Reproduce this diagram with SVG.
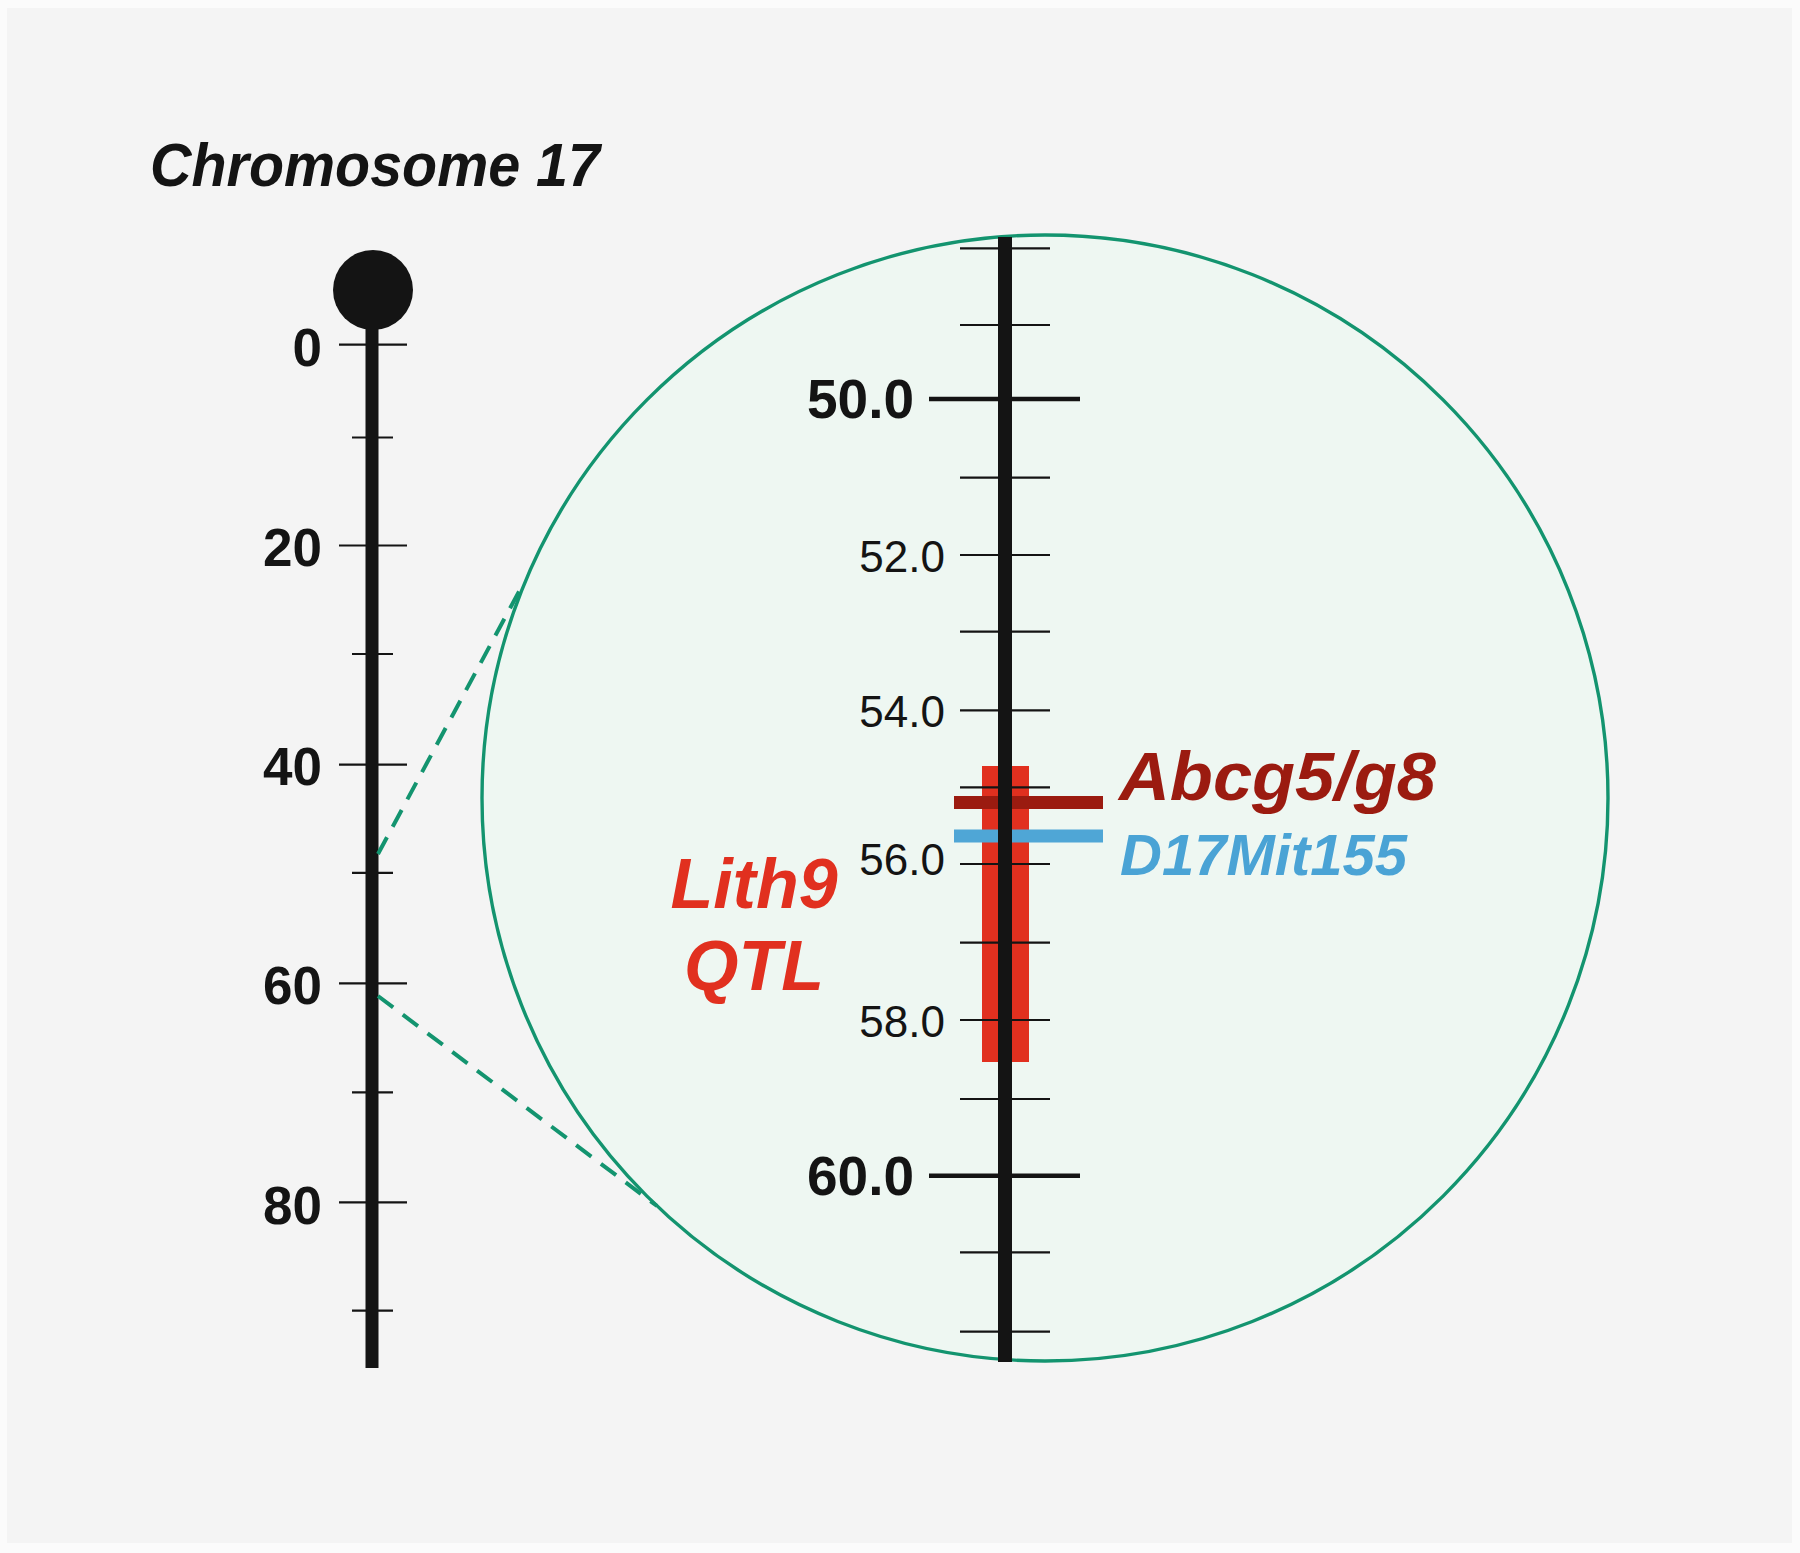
<svg xmlns="http://www.w3.org/2000/svg" width="1800" height="1553" viewBox="0 0 1800 1553">
<style>
.bold{font-family:"Liberation Sans",Arial,sans-serif;font-weight:bold}
.bi{font-family:"Liberation Sans",Arial,sans-serif;font-weight:bold;font-style:italic}
.reg{font-family:"Liberation Sans",Arial,sans-serif}
.tick{stroke:#141414;stroke-width:2.2}
.major{stroke:#141414;stroke-width:4.6}
.dash{stroke:#13946f;stroke-width:4;stroke-dasharray:19 12;fill:none}
</style>
<rect x="0" y="0" width="1800" height="1553" fill="#fbfbfb"/>
<rect x="7" y="8" width="1785" height="1535" fill="#f4f4f4"/>
<g id="title">
<text class="bi" x="150" y="186" font-size="61" fill="#141414" textLength="450" lengthAdjust="spacingAndGlyphs">Chromosome 17</text>
</g>
<g id="left-chromosome">
<circle cx="373" cy="290" r="40" fill="#141414"/>
<rect x="365.5" y="290" width="13" height="1078" fill="#141414"/>
<g class="tick">
<line x1="339" y1="344.6" x2="407" y2="344.6"/>
<line x1="352" y1="437.5" x2="393" y2="437.5"/>
<line x1="339" y1="545.5" x2="407" y2="545.5"/>
<line x1="352" y1="654" x2="393" y2="654"/>
<line x1="339" y1="764.7" x2="407" y2="764.7"/>
<line x1="352" y1="872.8" x2="393" y2="872.8"/>
<line x1="339" y1="983.3" x2="407" y2="983.3"/>
<line x1="352" y1="1092.3" x2="393" y2="1092.3"/>
<line x1="339" y1="1202.3" x2="407" y2="1202.3"/>
<line x1="352" y1="1310.7" x2="393" y2="1310.7"/>
</g>
<g class="bold" font-size="53" fill="#141414" text-anchor="end">
<text x="322" y="366">0</text>
<text x="322" y="566">20</text>
<text x="322" y="785">40</text>
<text x="322" y="1004">60</text>
<text x="322" y="1224">80</text>
</g>
</g>
<g id="magnifier">
<circle cx="1045" cy="798" r="563" fill="#eef7f2" stroke="#13946f" stroke-width="3.4"/>
</g>
<g id="connectors">
<line class="dash" x1="378" y1="854" x2="522" y2="586"/>
<line class="dash" x1="378" y1="996" x2="657" y2="1206"/>
</g>
<g id="qtl">
<rect x="982" y="766" width="47" height="296" fill="#e1301f"/>
</g>
<g id="markers">
<rect x="954" y="796" width="149" height="13" fill="#9b1b10"/>
<rect x="954" y="829.5" width="149" height="13" fill="#4fa6d6"/>
</g>
<g id="right-chromosome">
<g class="tick">
<line x1="960" y1="248.3" x2="1050" y2="248.3"/>
<line x1="960" y1="325" x2="1050" y2="325"/>
<line x1="960" y1="477.7" x2="1050" y2="477.7"/>
<line x1="960" y1="555" x2="1050" y2="555"/>
<line x1="960" y1="631.7" x2="1050" y2="631.7"/>
<line x1="960" y1="710.3" x2="1050" y2="710.3"/>
<line x1="960" y1="787.3" x2="1050" y2="787.3"/>
<line x1="960" y1="864" x2="1050" y2="864"/>
<line x1="960" y1="942.7" x2="1050" y2="942.7"/>
<line x1="960" y1="1020" x2="1050" y2="1020"/>
<line x1="960" y1="1099" x2="1050" y2="1099"/>
<line x1="960" y1="1252.3" x2="1050" y2="1252.3"/>
<line x1="960" y1="1331.7" x2="1050" y2="1331.7"/>
</g>
<line class="major" x1="929" y1="399" x2="1080" y2="399"/>
<line class="major" x1="929" y1="1175.7" x2="1080" y2="1175.7"/>
<rect x="998" y="237" width="14" height="1125" fill="#141414"/>
<g class="bold" font-size="55" fill="#141414" text-anchor="end">
<text x="914" y="418">50.0</text>
<text x="914" y="1195">60.0</text>
</g>
<g class="reg" font-size="44" fill="#141414" text-anchor="end">
<text x="945" y="572">52.0</text>
<text x="945" y="727">54.0</text>
<text x="945" y="875">56.0</text>
<text x="945" y="1037">58.0</text>
</g>
</g>
<g id="labels">
<text class="bi" x="754" y="908" font-size="70" fill="#e1301f" text-anchor="middle">Lith9</text>
<text class="bi" x="754" y="990" font-size="70" fill="#e1301f" text-anchor="middle">QTL</text>
<text class="bi" x="1119" y="800" font-size="68" fill="#9b1b10" textLength="317" lengthAdjust="spacingAndGlyphs">Abcg5/g8</text>
<text class="bi" x="1120" y="875" font-size="58" fill="#4aa3d5">D17Mit155</text>
</g>
</svg>
